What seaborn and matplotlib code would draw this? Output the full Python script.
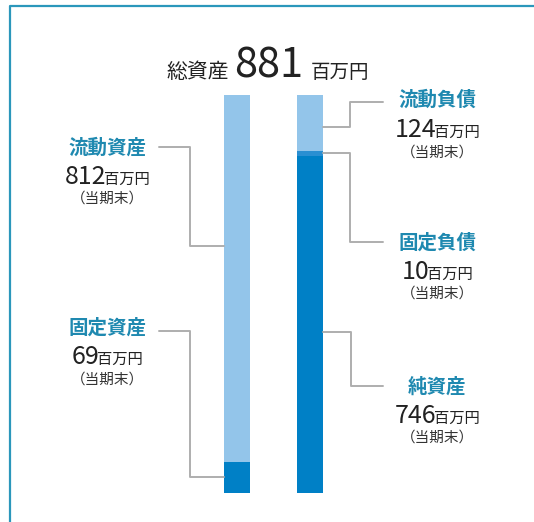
import numpy as np
import pandas as pd
import seaborn as sns
import matplotlib.pyplot as plt
from matplotlib.lines import Line2D

# ---- data ----
sides = ["資産", "負債・純資産"]
asset_labels = ["流動資産", "固定資産"]          # top -> bottom
asset_values = [812, 69]
liab_labels = ["流動負債", "固定負債", "純資産"]  # top -> bottom
liab_values = [124, 10, 746]
total_assets = 881
unit = "百万円"
period = "（当期末）"
title_label = "総資産"

LIGHT = "#93c5ea"
MID = "#2a8fd2"
DARK = "#0080c6"
TEAL = "#1f89b0"
GRAY = "#aeaeae"
TXT = "#222222"

sns.set_theme(style="white")
plt.rcParams["font.family"] = ["Noto Sans CJK JP", "DejaVu Sans"]

W, H = 534, 522
fig = plt.figure(figsize=(W / 100, H / 100), dpi=100)
fig.patch.set_facecolor("white")


def fx(px):
    return px / W


def fy(py):
    return 1 - py / H


# axes: bars centred at x=237 and x=310 px, y 0 -> 493px, 881 -> 94.5px
ax = fig.add_axes([fx(200.5), fy(493), 146 / W, 398.5 / H])

# build stacked layers (cumulative tops), drawn tallest first
rows = []
a_cols = [LIGHT, DARK]
cum = np.cumsum(asset_values[::-1])  # bottom-up
for lab, top, col in zip(asset_labels[::-1], cum, a_cols[::-1]):
    rows.append((sides[0], lab, top, col))
l_cols = [LIGHT, MID, DARK]
cum = np.cumsum(liab_values[::-1])
for lab, top, col in zip(liab_labels[::-1], cum, l_cols[::-1]):
    rows.append((sides[1], lab, top, col))
df = pd.DataFrame(rows, columns=["side", "item", "top", "color"])
df = df.sort_values("top", ascending=False)

for _, r in df.iterrows():
    sns.barplot(x=[r["side"]], y=[r["top"]], order=sides, color=r["color"],
                saturation=1, width=26 / 73, errorbar=None, ax=ax,
                linewidth=0)

ax.set_xlim(-0.5, 1.5)
ax.set_ylim(0, total_assets)
ax.axis("off")

# ---- frame lines ----
fig.add_artist(Line2D([fx(10), fx(10), fx(534)], [fy(522), fy(6), fy(6)],
                      color="#2b97bb", lw=1.6))

# ---- connectors ----
connectors = [
    [(159, 147), (190, 147), (190, 246), (224, 246)],
    [(159, 331), (190, 331), (190, 477), (224, 477)],
    [(323, 127), (350, 127), (350, 102), (383, 102)],
    [(323, 153), (350, 153), (350, 242), (383, 242)],
    [(323, 332), (351, 332), (351, 386), (383, 386)],
]
for pts in connectors:
    xs = [fx(p[0]) for p in pts]
    ys = [fy(p[1]) for p in pts]
    fig.add_artist(Line2D(xs, ys, color=GRAY, lw=1.4))

renderer = fig.canvas.get_renderer()


def row(pieces, cx, base_y):
    """pieces: list of (text, size, weight, color, gap_before_px)"""
    texts = []
    for t, s, w, c, g in pieces:
        texts.append(fig.text(0, fy(base_y), t, fontsize=s, fontweight=w,
                              color=c, ha="left", va="baseline"))
    widths = [t.get_window_extent(renderer).width for t in texts]
    total = sum(widths) + sum(p[4] for p in pieces)
    x = cx - total / 2
    for t, w, p in zip(texts, widths, pieces):
        x += p[4]
        t.set_x(fx(x))
        x += w


# title
row([(title_label, 15, "normal", TXT, 0),
     (str(total_assets), 30, "normal", TXT, 5),
     (unit, 14, "normal", TXT, 8)], 268, 78)

# label blocks: (label, value, cx, label_center_y, value_baseline, period_center)
blocks = [
    (asset_labels[0], asset_values[0], 107, 148, 184, 199),
    (asset_labels[1], asset_values[1], 107, 328, 364, 380),
    (liab_labels[0], liab_values[0], 437, 100, 137, 153),
    (liab_labels[1], liab_values[1], 437, 243, 279, 294),
    (liab_labels[2], liab_values[2], 437, 387, 423, 438),
]
for lab, val, cx, ly, vb, py in blocks:
    fig.text(fx(cx), fy(ly), lab, fontsize=14, fontweight="bold", color=TEAL,
             ha="center", va="center")
    row([(str(val), 18, "normal", TXT, 0), (unit, 11, "normal", TXT, -2)], cx, vb)
    fig.text(fx(cx), fy(py), period, fontsize=10.5, color="#333333",
             ha="center", va="center")

fig.savefig("out.png", dpi=100, facecolor="white")
